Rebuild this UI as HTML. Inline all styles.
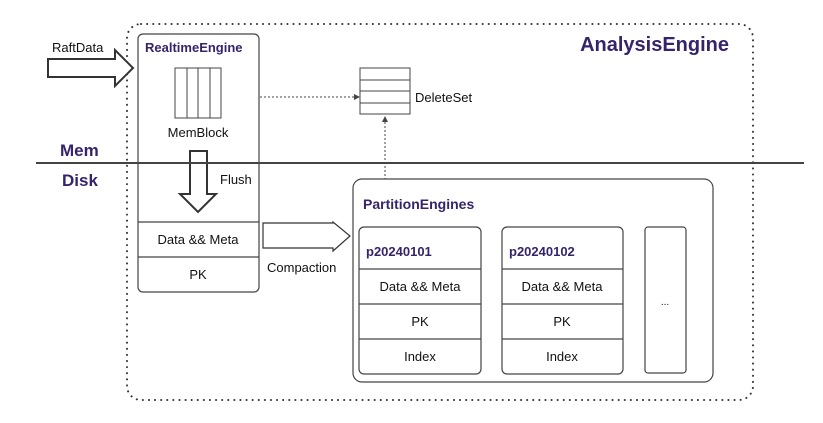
<!DOCTYPE html>
<html><head><meta charset="utf-8"><style>
body{margin:0;background:#fff;width:823px;height:423px;overflow:hidden}
svg{display:block}
text{font-family:"Liberation Sans",sans-serif}
</style></head><body>
<svg width="823" height="423" viewBox="0 0 823 423">
<rect x="127" y="24" width="626" height="376" rx="14" fill="none" stroke="#333" stroke-width="2" stroke-dasharray="0.1 6" stroke-linecap="round"/>
<text x="729" y="51" font-size="20" font-weight="bold" fill="#35246b" text-anchor="end">AnalysisEngine</text>
<text x="60" y="156" font-size="17" font-weight="bold" fill="#35246b">Mem</text>
<text x="62" y="186" font-size="17" font-weight="bold" fill="#35246b">Disk</text>
<!-- RaftData -->
<text x="52" y="52" font-size="13" fill="#111">RaftData</text>
<path d="M48,59 H115 V50 L133,68 L115,86 V77 H48 Z" fill="#fff" stroke="#333" stroke-width="2"/>
<!-- Realtime -->
<rect x="138" y="34" width="121" height="258" rx="5" fill="#fff" stroke="#444" stroke-width="1.2"/>
<line x1="138" y1="222" x2="259" y2="222" stroke="#444" stroke-width="1.2"/>
<line x1="138" y1="257" x2="259" y2="257" stroke="#444" stroke-width="1.2"/>
<text x="145" y="52" font-size="13" font-weight="bold" fill="#35246b">RealtimeEngine</text>
<g stroke="#444" fill="none" stroke-width="1"><rect x="175" y="68" width="46" height="50"/><line x1="187" y1="68" x2="187" y2="118"/><line x1="198" y1="68" x2="198" y2="118"/><line x1="210" y1="68" x2="210" y2="118"/></g>
<text x="198" y="137" font-size="13" fill="#111" text-anchor="middle">MemBlock</text>
<path d="M190,151 H207 V194 H216 L198,212 L180,194 H190 Z" fill="#fff" stroke="#333" stroke-width="2"/>
<text x="220" y="184" font-size="13" fill="#111">Flush</text>
<text x="198" y="244" font-size="13" fill="#111" text-anchor="middle">Data &amp;&amp; Meta</text>
<text x="198" y="279" font-size="13" fill="#111" text-anchor="middle">PK</text>
<line x1="36" y1="163" x2="804" y2="163" stroke="#444" stroke-width="2"/>
<!-- DeleteSet -->
<g stroke="#444" fill="#fff" stroke-width="1"><rect x="360" y="68" width="50" height="46"/><line x1="360" y1="80" x2="410" y2="80"/><line x1="360" y1="91" x2="410" y2="91"/><line x1="360" y1="103" x2="410" y2="103"/></g>
<text x="415" y="102" font-size="13" fill="#111">DeleteSet</text>
<line x1="260" y1="97" x2="355" y2="97" stroke="#444" stroke-dasharray="2 2"/>
<path d="M360,97 L354,94 V100 Z" fill="#444"/>
<line x1="385" y1="180" x2="385" y2="122" stroke="#444" stroke-dasharray="2 2"/>
<path d="M385,116 L382,122 H388 Z" fill="#444"/>
<!-- Compaction -->
<path d="M263,223 H333 V222 L350,236 L333,251 V248 H263 Z" fill="#fff" stroke="#333" stroke-width="1.2"/>
<text x="267" y="272" font-size="13" fill="#111">Compaction</text>
<!-- Partition -->
<rect x="353" y="179" width="360" height="203" rx="9" fill="#fff" stroke="#444" stroke-width="1.2"/>
<text x="363" y="209" font-size="14" font-weight="bold" fill="#35246b">PartitionEngines</text>
<g stroke="#444" stroke-width="1.2" fill="#fff">
<rect x="359" y="227" width="122" height="147" rx="5"/><line x1="359" y1="269" x2="481" y2="269"/><line x1="359" y1="304" x2="481" y2="304"/><line x1="359" y1="339" x2="481" y2="339"/>
<rect x="502" y="227" width="121" height="147" rx="5"/><line x1="502" y1="269" x2="623" y2="269"/><line x1="502" y1="304" x2="623" y2="304"/><line x1="502" y1="339" x2="623" y2="339"/>
<rect x="645" y="227" width="41" height="146" rx="3"/>
</g>
<text x="366" y="256" font-size="13" font-weight="bold" fill="#35246b">p20240101</text>
<text x="509" y="256" font-size="13" font-weight="bold" fill="#35246b">p20240102</text>
<g font-size="13" fill="#111" text-anchor="middle">
<text x="420" y="291">Data &amp;&amp; Meta</text><text x="420" y="326">PK</text><text x="420" y="361">Index</text>
<text x="562" y="291">Data &amp;&amp; Meta</text><text x="562" y="326">PK</text><text x="562" y="361">Index</text>
<text x="665" y="305" font-size="10">...</text>
</g>
</svg>
</body></html>
